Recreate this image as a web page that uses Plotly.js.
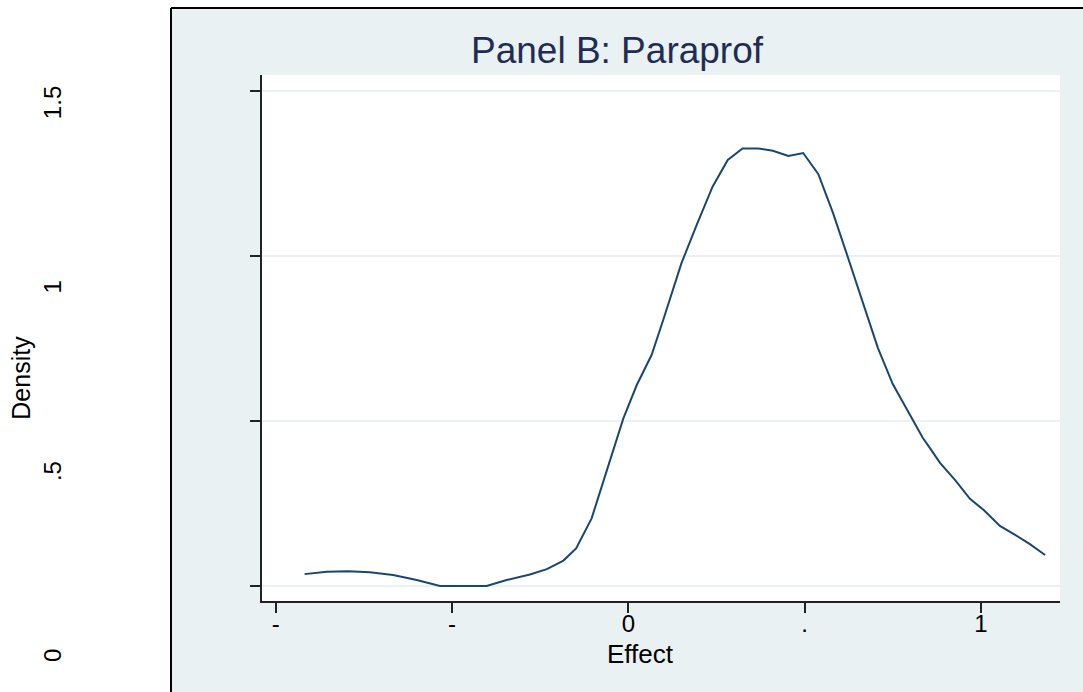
<!DOCTYPE html>
<html>
<head>
<meta charset="utf-8">
<script src="https://cdn.plot.ly/plotly-3.0.1.min.js"></script>
<style>html,body{margin:0;padding:0;background:#fff;}#chart{width:1083px;height:692px;}</style>
</head>
<body>
<div id="chart"></div>
<script>
// Kernel density estimate of the effect (Panel B: Paraprof)
const effectX = [-0.918, -0.855, -0.794, -0.733, -0.667, -0.600, -0.534, -0.402, -0.345, -0.279,
  -0.231, -0.184, -0.148, -0.104, -0.080, -0.052, -0.014, 0.024, 0.066, 0.099,
  0.151, 0.194, 0.239, 0.282, 0.324, 0.369, 0.410, 0.454, 0.496, 0.539,
  0.581, 0.619, 0.657, 0.708, 0.750, 0.793, 0.835, 0.856, 0.884, 0.927,
  0.969, 1.008, 1.054, 1.097, 1.139, 1.182];
const densityY = [0.036, 0.043, 0.045, 0.042, 0.033, 0.018, 0.000, 0.000, 0.018, 0.035,
  0.051, 0.077, 0.114, 0.205, 0.286, 0.382, 0.508, 0.609, 0.700, 0.806,
  0.979, 1.094, 1.210, 1.291, 1.326, 1.326, 1.319, 1.303, 1.312, 1.248,
  1.129, 1.008, 0.888, 0.721, 0.612, 0.530, 0.449, 0.417, 0.373, 0.321,
  0.264, 0.230, 0.182, 0.155, 0.127, 0.094];

const xTickVals = [-1, -0.5, 0, 0.5, 1];
const xTickText = ['-', '-', '0', '.', '1'];
const yTickVals = [0, 0.5, 1, 1.5];
const yTickText = ['0', '.5', '1', '1.5'];

const titleText = 'Panel B: Paraprof';
const xTitle = 'Effect';
const yTitle = 'Density';

const W = 1083, H = 692;
const panelColor = '#E9F1F3';
const lineColor = '#1A476F';
const FONT = 'Liberation Sans, Arial, Helvetica, sans-serif';

const plotL = 261.7, plotR = 1060, plotT = 75, plotB = 601;
const xDom = [plotL / W, plotR / W];
const yDom = [1 - plotB / H, 1 - plotT / H];

const traces = [
  {
    x: effectX, y: densityY, type: 'scatter', mode: 'lines',
    line: {color: lineColor, width: 2},
    xaxis: 'x', yaxis: 'y', hoverinfo: 'x+y', showlegend: false
  },
  {
    x: [null], y: [null], type: 'scatter', mode: 'lines',
    xaxis: 'x', yaxis: 'y2', hoverinfo: 'skip', showlegend: false
  }
];

const layout = {
  width: W, height: H,
  margin: {l: 0, r: 0, t: 0, b: 0, pad: 0},
  paper_bgcolor: '#ffffff',
  plot_bgcolor: 'rgba(0,0,0,0)',
  font: {family: FONT, color: '#000000'},
  showlegend: false,
  title: {
    text: titleText,
    font: {family: FONT, size: 37, color: '#1F2D56'},
    xref: 'paper', yref: 'paper',
    x: 617 / W, xanchor: 'center',
    y: 1 - 50 / H, yanchor: 'middle'
  },
  xaxis: {
    domain: xDom, anchor: 'y',
    range: [-1.0397, 1.2243], autorange: false,
    tickmode: 'array', tickvals: xTickVals, ticktext: xTickText,
    ticks: 'outside', ticklen: 10, tickwidth: 2, tickcolor: '#222222',
    ticklabelstandoff: -10,
    showline: true, linewidth: 2, linecolor: '#222222',
    showgrid: false, zeroline: false,
    tickfont: {family: FONT, size: 24, color: '#000000'}
  },
  yaxis: {
    domain: yDom, anchor: 'x',
    range: [-0.04545, 1.54848], autorange: false,
    tickmode: 'array', tickvals: yTickVals,
    ticks: 'outside', ticklen: 10, tickwidth: 2, tickcolor: '#222222',
    showticklabels: false,
    showline: true, linewidth: 2, linecolor: '#222222',
    showgrid: true, gridcolor: panelColor, gridwidth: 1.5,
    zeroline: false
  },
  yaxis2: {
    domain: [0, 0.9075], anchor: 'free', position: 0.061, side: 'left',
    range: [-0.0896, 1.6140], autorange: false,
    tickmode: 'array', tickvals: yTickVals, ticktext: yTickText,
    tickangle: -90, ticks: '', showline: false, showgrid: false, zeroline: false,
    tickfont: {family: FONT, size: 24, color: '#000000'},
    title: {text: yTitle, font: {family: FONT, size: 25, color: '#000000'}, standoff: 0}
  },
  annotations: [
    {text: xTitle, xref: 'paper', yref: 'paper', x: 640 / W, y: 1 - 654 / H,
     xanchor: 'center', yanchor: 'middle', showarrow: false,
     font: {family: FONT, size: 26, color: '#000000'}}
  ],
  shapes: [
    {type: 'rect', xref: 'paper', yref: 'paper', layer: 'below',
     x0: 171 / W, x1: 1.01, y0: -0.01, y1: 1 - 8 / H,
     fillcolor: panelColor, line: {width: 0}},
    {type: 'rect', xref: 'paper', yref: 'paper', layer: 'below',
     x0: xDom[0], x1: xDom[1], y0: yDom[0], y1: yDom[1],
     fillcolor: '#ffffff', line: {width: 0}},
    {type: 'line', xref: 'paper', yref: 'paper', layer: 'below',
     x0: 171 / W, x1: 1.01, y0: 1 - 8 / H, y1: 1 - 8 / H,
     line: {color: '#000000', width: 2}},
    {type: 'line', xref: 'paper', yref: 'paper', layer: 'below',
     x0: 171 / W, x1: 171 / W, y0: -0.01, y1: 1 - 8 / H,
     line: {color: '#000000', width: 2}}
  ]
};

Plotly.newPlot('chart', traces, layout, {displayModeBar: false, staticPlot: true});
</script>
</body>
</html>
